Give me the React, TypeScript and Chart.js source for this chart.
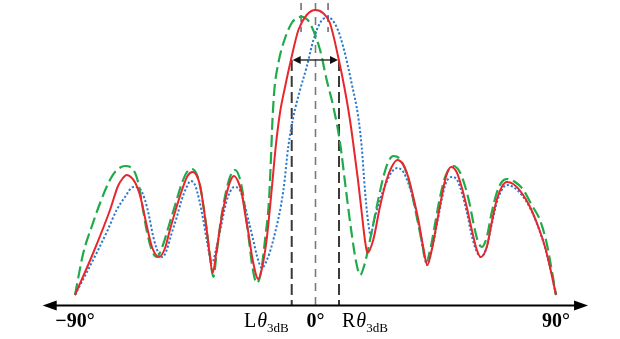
import React, { useEffect, useRef } from "react";
import { Chart, registerables } from "chart.js";

Chart.register(...registerables);

// Angles in degrees, gains in dB (normalised so the red peak is 0 dB)
const redAngles = [-90, -83.2, -76.9, -73.9, -72.2, -70.7, -69.1, -67.4, -65.7, -63.2, -61.2, -58.5, -56.3, -54.5, -52.0, -49.7, -47.9, -46.0, -44.2, -43.0, -41.9, -40.8, -39.7, -38.5, -37.0, -35.1, -33.2, -31.7, -30.5, -28.9, -27.6, -26.4, -25.1, -23.5, -21.4, -20.0, -18.3, -16.4, -14.9, -13.3, -11.4, -9.2, -6.4, -3.3, 0, 2.8, 5.4, 8.5, 11.0, 12.9, 14.1, 15.9, 17.4, 18.5, 19.4, 21.6, 24.1, 26.6, 28.5, 30.6, 32.9, 34.7, 36.6, 38.5, 40.3, 41.8, 43.5, 45.4, 47.2, 48.8, 50.7, 52.8, 54.7, 56.6, 58.5, 60.4, 61.8, 64.1, 65.9, 67.8, 69.7, 71.6, 74.0, 77.2, 80.3, 83.4, 85.9, 88.0, 90];
const redGain = [-28.5, -24.3, -20.0, -17.6, -16.85, -16.5, -16.7, -17.3, -18.5, -21.5, -23.7, -24.7, -23.8, -22.0, -19.7, -17.8, -16.6, -16.2, -16.7, -17.8, -19.7, -21.8, -24.2, -26.3, -24.0, -20.7, -18.3, -17.0, -16.6, -17.2, -18.3, -20.3, -22.3, -25.0, -26.9, -25.8, -23.0, -18.0, -13.7, -10.3, -7.7, -5.0, -2.0, -0.5, 0, -0.3, -1.3, -4.7, -8.0, -11.0, -13.3, -17.0, -20.5, -23.0, -24.3, -23.0, -19.7, -17.0, -15.7, -15.0, -15.5, -16.7, -18.7, -21.0, -23.7, -25.5, -24.0, -21.3, -18.7, -16.7, -15.7, -16.2, -17.7, -19.7, -22.0, -24.0, -24.7, -23.7, -21.3, -19.0, -17.7, -17.2, -17.4, -18.3, -19.7, -21.7, -23.7, -26.0, -28.5];

const greenAngles = [-90, -86.9, -83.8, -80.6, -77.5, -75.0, -71.3, -68.4, -66.3, -64.7, -63.2, -61.3, -59.4, -57.1, -54.8, -52.3, -50.1, -48.2, -46.3, -44.5, -43.2, -42.0, -40.8, -39.6, -38.2, -37.0, -35.4, -33.6, -32.0, -30.1, -28.5, -27.2, -26.0, -24.9, -23.6, -22.0, -20.4, -18.9, -17.4, -16.7, -16.1, -15.4, -13.9, -12.0, -8.9, -7.1, -5.2, -3.6, -2.1, 1.7, 4.2, 6.7, 9.2, 11.4, 13.5, 15.2, 16.7, 18.5, 20.4, 22.9, 25.4, 27.2, 29.1, 31.6, 34.1, 36.0, 37.9, 39.7, 41.4, 42.9, 44.8, 46.6, 48.8, 51.6, 53.8, 55.6, 57.6, 59.1, 60.6, 62.2, 64.1, 65.9, 67.8, 69.7, 71.6, 74.7, 77.8, 80.9, 84.0, 86.5, 88.4, 90];
const greenGain = [-28.5, -24.3, -21.7, -19.3, -17.3, -16.2, -15.6, -15.9, -17.3, -19.7, -22.0, -24.0, -24.7, -23.5, -21.5, -19.3, -17.4, -16.25, -15.9, -16.4, -17.6, -19.5, -21.8, -24.4, -26.7, -24.3, -21.0, -18.3, -16.7, -16.0, -16.7, -18.3, -20.7, -23.0, -25.7, -27.3, -26.2, -23.0, -19.0, -15.0, -11.0, -8.0, -5.3, -3.3, -1.3, -0.85, -0.67, -0.85, -1.3, -4.0, -7.0, -9.7, -13.3, -18.0, -22.3, -25.2, -26.5, -25.3, -23.0, -19.7, -16.7, -15.2, -14.6, -14.9, -16.3, -18.3, -20.7, -23.0, -25.2, -24.0, -21.3, -18.7, -16.5, -15.6, -16.1, -17.3, -19.3, -21.3, -23.0, -23.7, -22.7, -20.3, -18.3, -17.2, -16.9, -17.2, -18.0, -19.5, -21.0, -23.3, -26.0, -28.5];

const blueAngles = [-90, -81.9, -78.1, -74.4, -71.3, -68.2, -65.7, -63.8, -62.2, -60.7, -58.8, -57.2, -55.7, -53.8, -51.9, -50.1, -48.2, -46.7, -45.1, -43.5, -42.0, -40.5, -38.8, -37.0, -35.1, -33.5, -32.0, -30.5, -28.6, -27.0, -25.1, -23.3, -21.8, -20.1, -18.5, -15.8, -12.0, -10.2, -8.3, -5.8, -3.3, -0.8, 1.7, 4.5, 7.9, 10.4, 13.5, 16.0, 17.3, 18.5, 19.6, 20.7, 21.7, 24.1, 26.6, 28.5, 30.6, 32.9, 34.7, 36.6, 38.5, 40.3, 41.8, 43.5, 45.4, 47.2, 48.8, 51.0, 53.0, 54.8, 56.7, 58.6, 60.4, 61.8, 64.1, 65.9, 67.8, 69.7, 71.6, 74.0, 77.2, 80.3, 83.4, 85.9, 88.0, 90];
const blueGain = [-28.5, -24.3, -22.2, -20.0, -18.7, -17.7, -17.9, -19.0, -20.7, -22.7, -24.3, -24.7, -24.0, -22.3, -20.7, -19.0, -17.7, -17.1, -17.5, -19.0, -21.0, -23.3, -25.3, -23.7, -21.3, -19.3, -18.2, -17.7, -17.9, -19.0, -21.0, -23.0, -24.7, -25.8, -25.2, -23.0, -18.0, -13.7, -10.7, -8.0, -5.7, -3.0, -1.3, -0.7, -1.7, -3.7, -7.3, -10.7, -13.7, -18.0, -21.0, -22.5, -21.3, -19.0, -17.2, -16.2, -15.8, -16.2, -17.3, -19.0, -21.3, -24.0, -25.5, -24.0, -21.5, -19.0, -17.3, -16.7, -17.0, -18.3, -20.3, -22.7, -24.2, -24.7, -23.7, -21.5, -19.3, -18.0, -17.5, -17.7, -18.5, -19.8, -21.75, -23.75, -26.05, -28.5];

const tickAngles = [-90, 0, 90];
const tickLabels = ["\u221290\u00b0", "0\u00b0", "90\u00b0"];
const halfPowerAngles = [-8.9, 8.8];
const halfPowerLevel = -5.0;
const halfPowerPrefixes = ["L", "R"];
const beamPeakAngles = [-5.4, 4.7];
const axisExtent = [-102.1, 102.0];

function toPoints(xs: number[], ys: number[]) {
  return xs.map((v, i) => ({ x: v, y: ys[i] }));
}

const decorPlugin = {
  id: "decor",
  beforeDatasetsDraw(chart: any) {
    const { ctx, scales } = chart;
    const x = scales.x;
    const y = scales.y;
    const yAxis = y.getPixelForValue(y.min);
    ctx.save();
    ctx.lineCap = "butt";
    ctx.strokeStyle = "#7a7a7a";
    ctx.lineWidth = 1.6;
    ctx.setLineDash([8, 6]);
    const xc = x.getPixelForValue(0);
    ctx.beginPath();
    ctx.moveTo(xc, y.getPixelForValue(0.7));
    ctx.lineTo(xc, yAxis);
    ctx.stroke();
    ctx.strokeStyle = "#707070";
    ctx.lineWidth = 1.6;
    ctx.setLineDash([7, 5]);
    beamPeakAngles.forEach((a) => {
      const px = x.getPixelForValue(a);
      ctx.beginPath();
      ctx.moveTo(px, y.getPixelForValue(0.7));
      ctx.lineTo(px, y.getPixelForValue(-2.2));
      ctx.stroke();
    });
    ctx.strokeStyle = "#3a3a3a";
    ctx.lineWidth = 2;
    ctx.setLineDash([11, 5]);
    halfPowerAngles.forEach((a) => {
      const px = x.getPixelForValue(a);
      ctx.beginPath();
      ctx.moveTo(px, y.getPixelForValue(halfPowerLevel));
      ctx.lineTo(px, yAxis);
      ctx.stroke();
    });
    ctx.restore();
  },
  afterDatasetsDraw(chart: any) {
    const { ctx, scales } = chart;
    const x = scales.x;
    const y = scales.y;
    const yAxis = y.getPixelForValue(y.min) + 0.5;
    ctx.save();
    ctx.setLineDash([]);
    const xl = x.getPixelForValue(halfPowerAngles[0]);
    const xr = x.getPixelForValue(halfPowerAngles[1]);
    const yh = y.getPixelForValue(halfPowerLevel);
    ctx.strokeStyle = "#333";
    ctx.fillStyle = "#111";
    ctx.lineWidth = 1.5;
    ctx.beginPath();
    ctx.moveTo(xl + 4, yh);
    ctx.lineTo(xr - 4, yh);
    ctx.stroke();
    const head = (tip: number, dir: number, yy: number, len: number, hw: number) => {
      ctx.beginPath();
      ctx.moveTo(tip, yy);
      ctx.lineTo(tip + dir * len, yy - hw);
      ctx.lineTo(tip + dir * len, yy + hw);
      ctx.closePath();
      ctx.fill();
    };
    head(xl + 1, 1, yh, 8, 4);
    head(xr - 1, -1, yh, 8, 4);
    const xa0 = x.getPixelForValue(axisExtent[0]);
    const xa1 = x.getPixelForValue(axisExtent[1]);
    ctx.strokeStyle = "#000";
    ctx.fillStyle = "#000";
    ctx.lineWidth = 1.8;
    ctx.beginPath();
    ctx.moveTo(xa0 + 6, yAxis);
    ctx.lineTo(xa1 - 6, yAxis);
    ctx.stroke();
    head(xa0, 1, yAxis, 14, 5);
    head(xa1, -1, yAxis, 14, 5);
    const base = 327;
    ctx.textBaseline = "alphabetic";
    ctx.textAlign = "center";
    ctx.font = 'bold 20px "Liberation Serif"';
    tickAngles.forEach((a, i) => {
      ctx.fillText(tickLabels[i], x.getPixelForValue(a), base);
    });
    ctx.textAlign = "left";
    const regular = '20px "Liberation Serif"';
    const italic = 'italic 20px "Liberation Serif"';
    const small = '13px "Liberation Serif"';
    const measure = (prefix: string) => {
      ctx.font = regular;
      const w1 = ctx.measureText(prefix).width;
      ctx.font = italic;
      const w2 = ctx.measureText("\u03b8").width;
      ctx.font = small;
      const w3 = ctx.measureText("3dB").width;
      return [w1, w2, w3];
    };
    halfPowerAngles.forEach((a, i) => {
      const px = x.getPixelForValue(a);
      const [w1, w2, w3] = measure(halfPowerPrefixes[i]);
      const total = w1 + 1 + w2 + w3;
      let sx = i === 0 ? px - 3 - total : px + 3;
      ctx.font = regular;
      ctx.fillText(halfPowerPrefixes[i], sx, base);
      sx += w1 + 1;
      ctx.font = italic;
      ctx.fillText("\u03b8", sx, base);
      sx += w2;
      ctx.font = small;
      ctx.fillText("3dB", sx, base + 5);
    });
    ctx.restore();
  },
};

export default function App() {
  const canvasRef = useRef<HTMLCanvasElement | null>(null);
  useEffect(() => {
    if (!canvasRef.current) return;
    const common = { pointRadius: 0, cubicInterpolationMode: "monotone", fill: false, clip: false };
    const chart = new Chart(canvasRef.current, {
      type: "line",
      data: {
        datasets: [
          {
            label: "red",
            data: toPoints(redAngles, redGain),
            borderColor: "#e8262b",
            borderWidth: 2,
            ...common,
          },
          {
            label: "green",
            data: toPoints(greenAngles, greenGain),
            borderColor: "#1fab4b",
            borderWidth: 2.2,
            borderDash: [12, 5],
            ...common,
          },
          {
            label: "blue",
            data: toPoints(blueAngles, blueGain),
            borderColor: "#2b7bcc",
            borderWidth: 2,
            borderDash: [2.2, 2],
            ...common,
          },
        ] as any,
      },
      options: {
        animation: false,
        responsive: false,
        devicePixelRatio: 1,
        layout: { padding: { left: 75, right: 64, top: 5, bottom: 34 } },
        plugins: { legend: { display: false }, tooltip: { enabled: false } },
        scales: {
          x: { type: "linear", min: -90, max: 90, display: false },
          y: { type: "linear", min: -29.5, max: 0.5, display: false },
        },
      } as any,
      plugins: [decorPlugin],
    });
    return () => chart.destroy();
  }, []);
  return (
    <div style={{ position: "absolute", left: 0, top: 0, width: 620, height: 339, background: "#fff" }}>
      <canvas ref={canvasRef} width={620} height={339} />
    </div>
  );
}
